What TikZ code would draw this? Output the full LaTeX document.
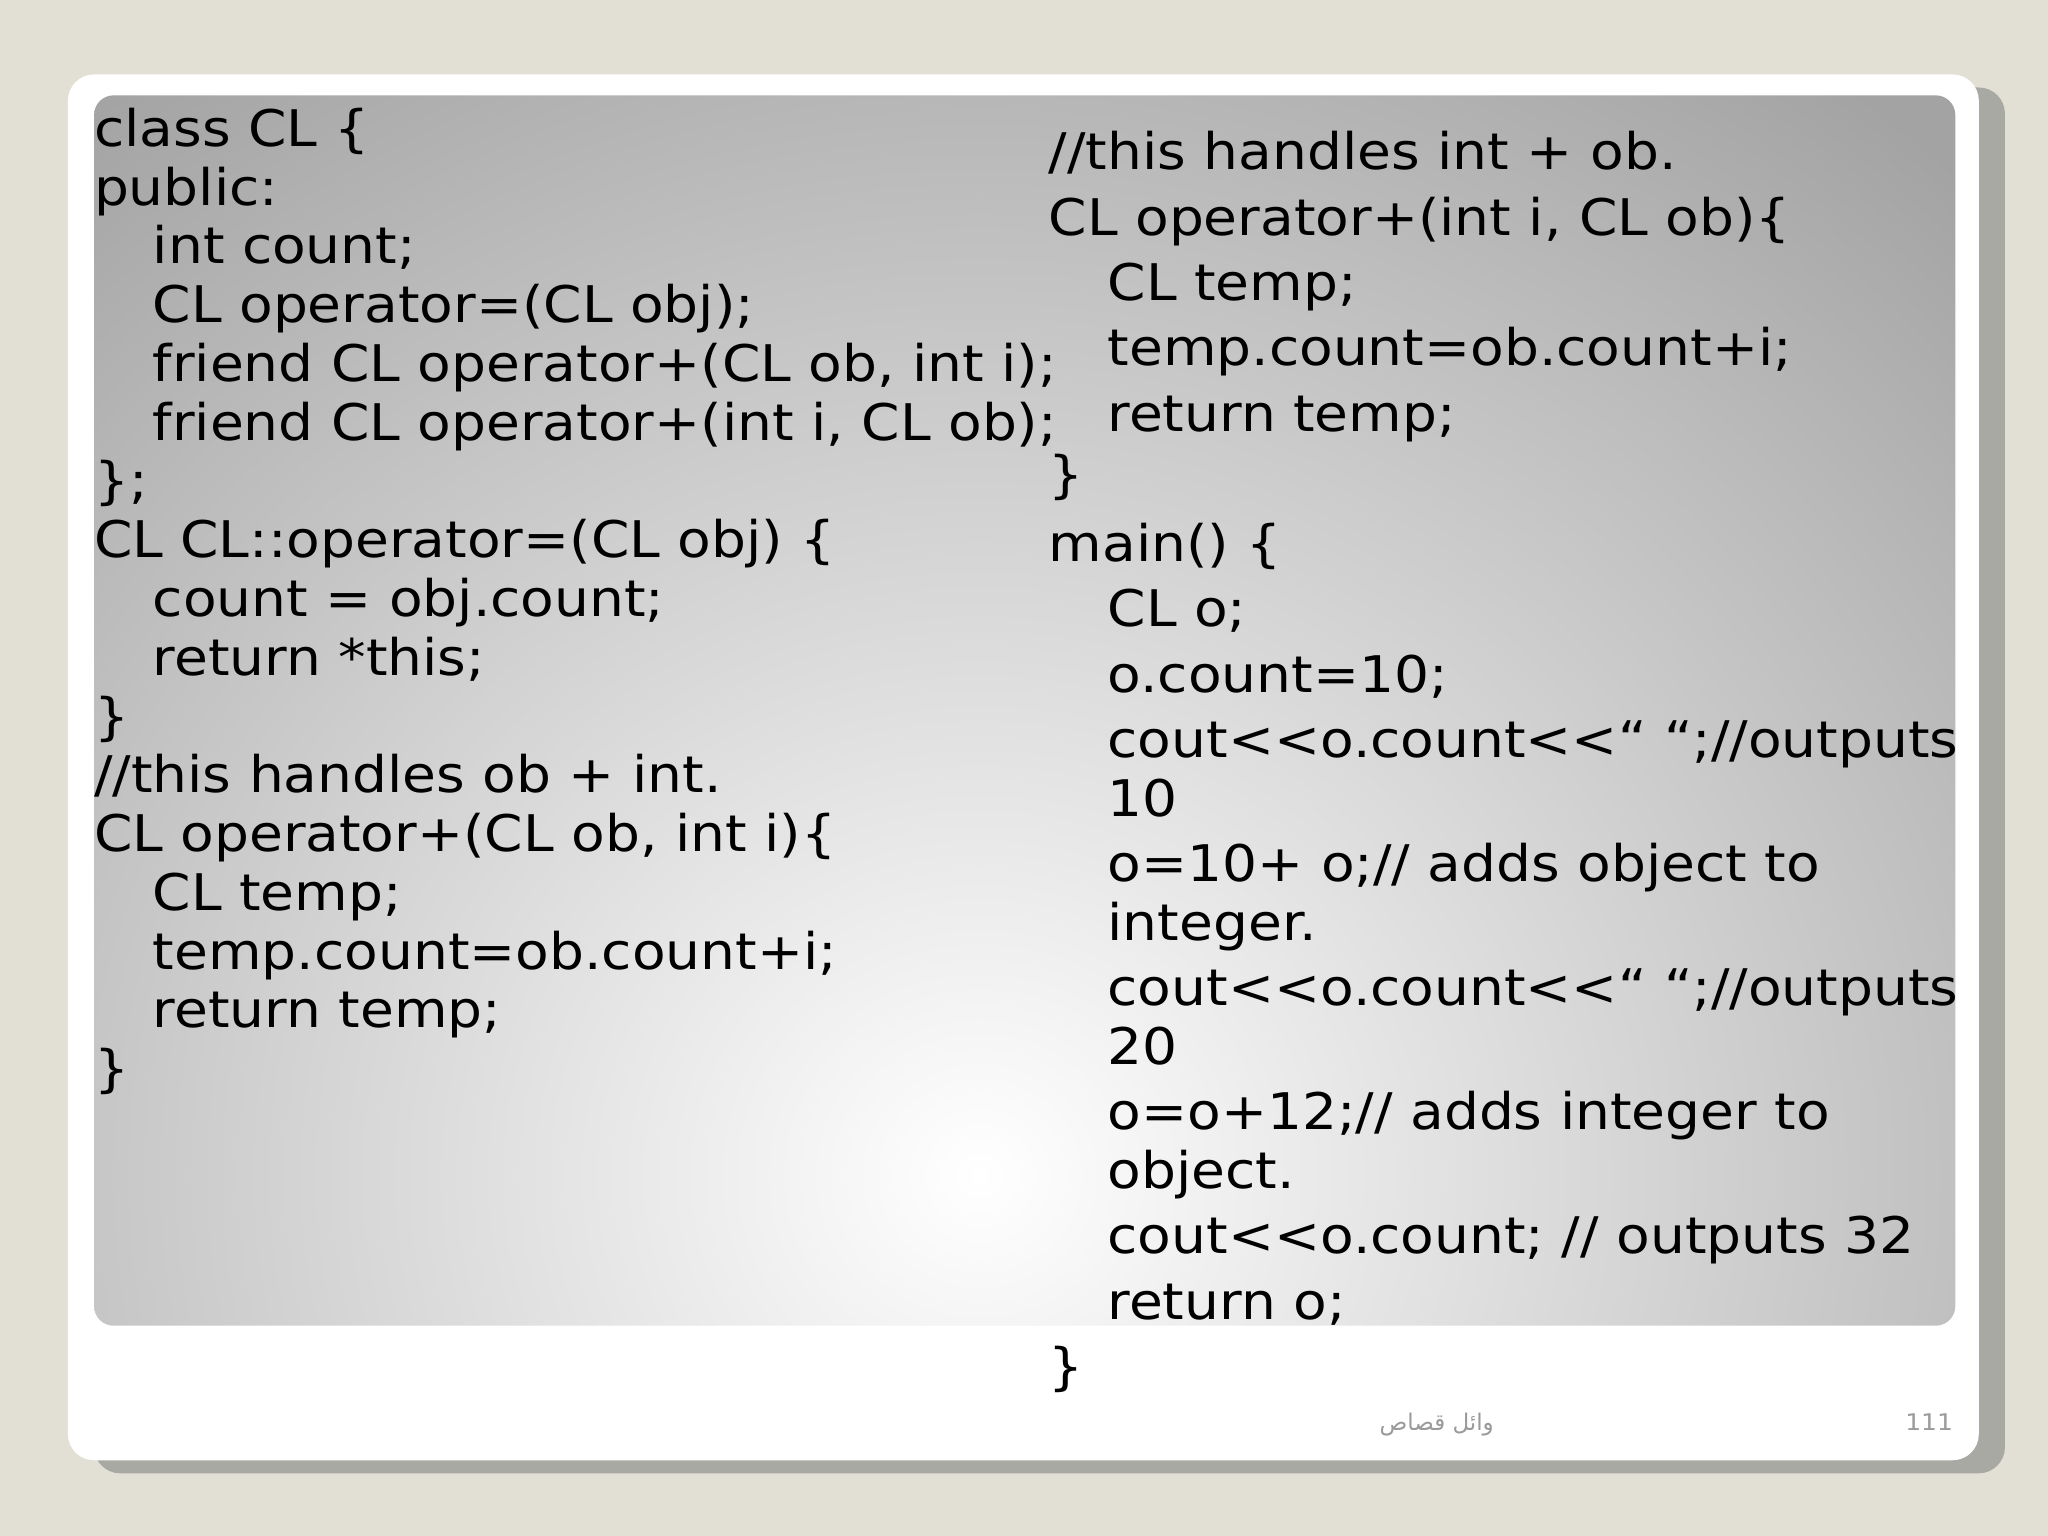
\documentclass[tikz,border=0pt]{standalone}
\usepackage{fontspec}
\setmainfont{DejaVu Sans}[FakeStretch=1.09]
\newfontfamily\arabicfont[Script=Arabic]{DejaVu Sans}
\TeXXeTstate=1
\definecolor{pagebg}{HTML}{E2DFD4}
\definecolor{shadowgray}{HTML}{A9A9A3}
\definecolor{slidegray}{HTML}{A3A3A3}
\definecolor{footgray}{HTML}{9A9A9A}
\begin{document}
\begin{tikzpicture}[x=1cm,y=-1cm,
  code/.style={anchor=base west, inner sep=0pt, outer sep=0pt, font=\fontsize{11}{13}\selectfont, text=black},
  foot/.style={anchor=base, inner sep=0pt, font=\fontsize{5}{6}\selectfont, text=footgray}]
\useasboundingbox (0,0) rectangle (15.68,11.76);
\fill[pagebg] (0,0) rectangle (15.68,11.76);
\fill[shadowgray, rounded corners=0.2cm] (0.72,0.67) rectangle (15.35,11.28);
\fill[white, rounded corners=0.2cm] (0.52,0.57) rectangle (15.15,11.18);
\begin{scope}
\clip[rounded corners=0.15cm] (0.72,0.73) rectangle (14.97,10.15);
\shade[inner color=white, outer color=slidegray] (-3.5,-1.5) rectangle (18.5,19.5);
\end{scope}

% left column
\node[code] (l1) at (0.72,1.12) {class CL \{};
\node[code] (l2) at (0.72,1.57) {public:};
\node[code] (l3) at (1.17,2.02) {int count;};
\node[code] (l4) at (1.17,2.47) {CL operator=(CL obj);};
\node[code] (l5) at (1.17,2.92) {friend CL operator+(CL ob, int i);};
\node[code] (l6) at (1.17,3.37) {friend CL operator+(int i, CL ob);};
\node[code] (l7) at (0.72,3.82) {\};};
\node[code] (l8) at (0.72,4.27) {CL CL::operator=(CL obj) \{};
\node[code] (l9) at (1.17,4.72) {count = obj.count;};
\node[code] (l10) at (1.17,5.17) {return *this;};
\node[code] (l11) at (0.72,5.62) {\}};
\node[code] (l12) at (0.72,6.07) {//this handles ob + int.};
\node[code] (l13) at (0.72,6.52) {CL operator+(CL ob, int i)\{};
\node[code] (l14) at (1.17,6.97) {CL temp;};
\node[code] (l15) at (1.17,7.42) {temp.count=ob.count+i;};
\node[code] (l16) at (1.17,7.87) {return temp;};
\node[code] (l17) at (0.72,8.32) {\}};

% right column
\node[code] (r1) at (8.03,1.30) {//this handles int + ob.};
\node[code] (r2) at (8.03,1.80) {CL operator+(int i, CL ob)\{};
\node[code] (r3) at (8.48,2.30) {CL temp;};
\node[code] (r4) at (8.48,2.80) {temp.count=ob.count+i;};
\node[code] (r5) at (8.48,3.30) {return temp;};
\node[code] (r6) at (8.03,3.77) {\}};
\node[code] (r7) at (8.03,4.30) {main() \{};
\node[code] (r8) at (8.48,4.80) {CL o;};
\node[code] (r9) at (8.48,5.30) {o.count=10;};
\node[code] (r10) at (8.48,5.80) {cout<{}<o.count<{}<“ “;//outputs};
\node[code] (r11) at (8.48,6.25) {10};
\node[code] (r12) at (8.48,6.75) {o=10+ o;// adds object to};
\node[code] (r13) at (8.48,7.20) {integer.};
\node[code] (r14) at (8.48,7.70) {cout<{}<o.count<{}<“ “;//outputs};
\node[code] (r15) at (8.48,8.15) {20};
\node[code] (r16) at (8.48,8.65) {o=o+12;// adds integer to};
\node[code] (r17) at (8.48,9.10) {object.};
\node[code] (r18) at (8.48,9.60) {cout<{}<o.count; // outputs 32};
\node[code] (r19) at (8.48,10.10) {return o;};
\node[code] (r20) at (8.03,10.60) {\}};

% footer
\node[foot] (author) at (11.00,10.95) {\arabicfont\beginR وائل قصاص\endR};
\node[foot] (page) at (14.77,10.95) {111};
\end{tikzpicture}
\end{document}
